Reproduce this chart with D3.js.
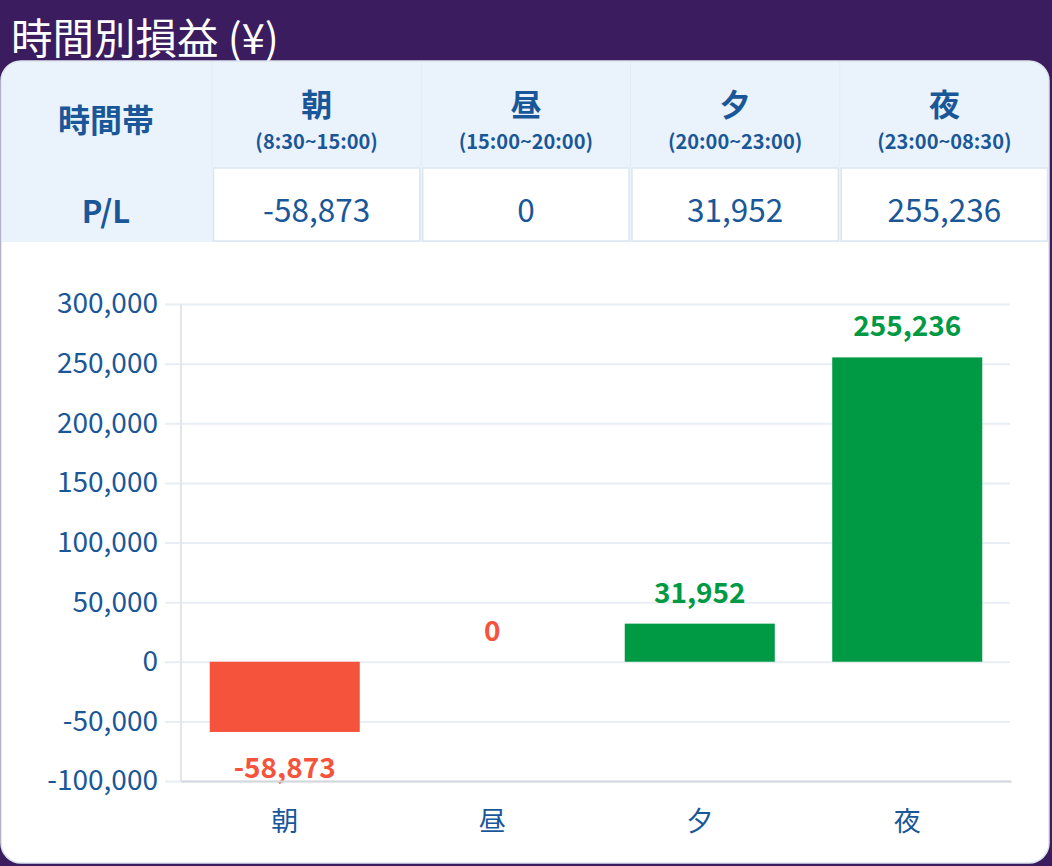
<!DOCTYPE html>
<html>
<head>
<meta charset="utf-8">
<script src="https://cdn.jsdelivr.net/npm/d3@7"></script>
<style>
  html, body { margin: 0; padding: 0; background: #3b1c5e; }
  svg { display: block; font-family: 'Noto Sans CJK JP', 'Noto Sans', sans-serif; }
</style>
</head>
<body>
<div id="chart"></div>
<script>
// Data
const categories = ['朝', '昼', '夕', '夜'];
const timeRanges = ['(8:30~15:00)', '(15:00~20:00)', '(20:00~23:00)', '(23:00~08:30)'];
const plValues = [-58873, 0, 31952, 255236];
const yTicks = [-100000, -50000, 0, 50000, 100000, 150000, 200000, 250000, 300000];

const width = 1052;
const height = 866;

const textBlue = '#1a5799';
const lossRed = '#f5533b';
const gainGreen = '#009944';
const fontStack = "'Noto Sans CJK JP', 'Noto Sans', sans-serif";

// plain hyphen for negatives, like the original
const fmt = d3
  .formatLocale({ decimal: '.', thousands: ',', grouping: [3], currency: ['¥', ''], minus: '-' })
  .format(',');

const svg = d3
  .select('#chart')
  .append('svg')
  .attr('width', width)
  .attr('height', height);

// Title on the purple band
svg
  .append('text')
  .attr('x', 11)
  .attr('y', 54)
  .style('font-size', '41.5px')
  .style('fill', '#ffffff')
  .text('時間別損益 (¥)');

// Card
const card = { x: 1, y: 61, w: 1048, h: 802, r: 20 };

svg
  .append('clipPath')
  .attr('id', 'cardClip')
  .append('rect')
  .attr('x', card.x)
  .attr('y', card.y)
  .attr('width', card.w)
  .attr('height', card.h)
  .attr('rx', card.r);

svg
  .append('rect')
  .attr('x', card.x)
  .attr('y', card.y)
  .attr('width', card.w)
  .attr('height', card.h)
  .attr('rx', card.r)
  .style('fill', '#ffffff');

const cardBody = svg.append('g').attr('clip-path', 'url(#cardClip)');

// Table band
const tableTop = card.y;
const headBottom = 167;
const tableBottom = 242;
const firstColW = 212;

cardBody
  .append('rect')
  .attr('x', 0)
  .attr('y', tableTop)
  .attr('width', width)
  .attr('height', tableBottom - tableTop)
  .style('fill', '#eaf3fb');

const col = d3
  .scaleBand()
  .domain(categories)
  .range([firstColW, card.x + card.w]);

// faint separators in header row
cardBody
  .selectAll('.head-sep')
  .data(categories)
  .enter()
  .append('line')
  .attr('class', 'head-sep')
  .attr('x1', (d) => col(d))
  .attr('x2', (d) => col(d))
  .attr('y1', tableTop)
  .attr('y2', headBottom)
  .style('stroke', '#e2ecf6')
  .style('stroke-width', 1);

// header labels
cardBody
  .append('text')
  .attr('x', firstColW / 2)
  .attr('y', 132)
  .attr('text-anchor', 'middle')
  .style('font-size', '32px')
  .style('font-weight', 'bold')
  .style('fill', textBlue)
  .text('時間帯');

cardBody
  .selectAll('.head-cat')
  .data(categories)
  .enter()
  .append('text')
  .attr('class', 'head-cat')
  .attr('x', (d) => col(d) + col.bandwidth() / 2)
  .attr('y', 116)
  .attr('text-anchor', 'middle')
  .style('font-size', '31px')
  .style('font-weight', 'bold')
  .style('fill', textBlue)
  .text((d) => d);

cardBody
  .selectAll('.head-range')
  .data(timeRanges)
  .enter()
  .append('text')
  .attr('class', 'head-range')
  .attr('x', (d, i) => col(categories[i]) + col.bandwidth() / 2)
  .attr('y', 149)
  .attr('text-anchor', 'middle')
  .style('font-size', '20px')
  .style('font-weight', 'bold')
  .style('fill', textBlue)
  .text((d) => d);

// P/L row
cardBody
  .append('text')
  .attr('x', firstColW / 2)
  .attr('y', 223)
  .attr('text-anchor', 'middle')
  .style('font-size', '31px')
  .style('font-weight', 'bold')
  .style('fill', textBlue)
  .text('P/L');

cardBody
  .selectAll('.pl-cell')
  .data(plValues)
  .enter()
  .append('rect')
  .attr('class', 'pl-cell')
  .attr('x', (d, i) => col(categories[i]) + 1.5)
  .attr('y', headBottom + 1)
  .attr('width', col.bandwidth() - 3)
  .attr('height', tableBottom - headBottom - 2)
  .style('fill', '#ffffff')
  .style('stroke', '#dbe6f1')
  .style('stroke-width', 1.5);

cardBody
  .selectAll('.pl-val')
  .data(plValues)
  .enter()
  .append('text')
  .attr('class', 'pl-val')
  .attr('x', (d, i) => col(categories[i]) + col.bandwidth() / 2)
  .attr('y', 222)
  .attr('text-anchor', 'middle')
  .style('font-size', '31.5px')
  .style('fill', textBlue)
  .text((d) => fmt(d));

// Chart area
const plot = { left: 181, right: 1011, top: 304, bottom: 781 };

const x = d3
  .scaleBand()
  .domain(categories)
  .range([plot.left, plot.right])
  .paddingInner(0.277)
  .paddingOuter(0.1385);

const y = d3
  .scaleLinear()
  .domain([-100000, 300000])
  .range([plot.bottom, plot.top]);

// Gridlines + y labels
const yAxis = d3
  .axisLeft(y)
  .tickValues(yTicks)
  .tickSize(-(plot.right - 1 - 165))
  .tickPadding(7)
  .tickFormat(fmt);

const yG = svg
  .append('g')
  .attr('transform', 'translate(165,0)')
  .call(yAxis);

yG.select('.domain').remove();
yG.selectAll('.tick line').style('stroke', '#e8eef4').style('stroke-width', 2);
yG
  .selectAll('.tick text')
  .style('font-size', '28px')
  .style('font-family', fontStack)
  .style('fill', textBlue);

// Vertical axis line
svg
  .append('line')
  .attr('x1', plot.left)
  .attr('x2', plot.left)
  .attr('y1', plot.top)
  .attr('y2', plot.bottom)
  .style('stroke', '#e2e5ec')
  .style('stroke-width', 2);

// Bars
svg
  .selectAll('.bar')
  .data(plValues)
  .enter()
  .append('rect')
  .attr('class', 'bar')
  .attr('x', (d, i) => x(categories[i]))
  .attr('y', (d) => y(Math.max(0, d)))
  .attr('width', x.bandwidth())
  .attr('height', (d) => Math.abs(y(d) - y(0)))
  .style('fill', (d) => (d > 0 ? gainGreen : lossRed));

// Bar value labels
svg
  .selectAll('.bar-label')
  .data(plValues)
  .enter()
  .append('text')
  .attr('class', 'bar-label')
  .attr('x', (d, i) => x(categories[i]) + x.bandwidth() / 2)
  .attr('y', (d) => (d < 0 ? y(d) + 46 : y(d) - 21))
  .attr('text-anchor', 'middle')
  .style('font-size', '28px')
  .style('font-weight', 'bold')
  .style('fill', (d) => (d > 0 ? gainGreen : lossRed))
  .text((d) => fmt(d));

// Bottom axis
const xAxis = d3.axisBottom(x).tickSize(0).tickPadding(31);

const xG = svg
  .append('g')
  .attr('transform', 'translate(0,' + plot.bottom + ')')
  .call(xAxis);

xG.select('.domain').style('stroke', '#d3d7e0').style('stroke-width', 2);
xG
  .selectAll('.tick text')
  .style('font-size', '27px')
  .style('font-family', fontStack)
  .style('fill', textBlue);

// Card outline on top
svg
  .append('rect')
  .attr('x', card.x)
  .attr('y', card.y)
  .attr('width', card.w)
  .attr('height', card.h)
  .attr('rx', card.r)
  .style('fill', 'none')
  .style('stroke', '#dce4ee')
  .style('stroke-width', 1.5);
</script>
</body>
</html>
